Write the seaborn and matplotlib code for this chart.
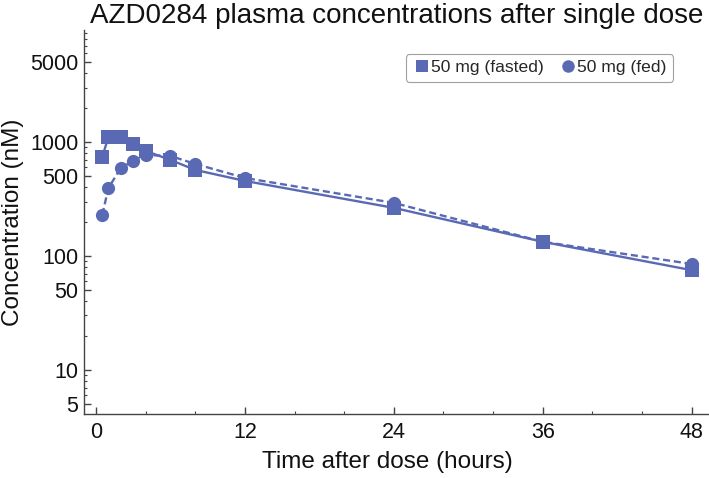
import matplotlib
matplotlib.use("Agg")
import matplotlib.pyplot as plt
import seaborn as sns
import pandas as pd
from matplotlib.ticker import FixedLocator, NullFormatter, MultipleLocator
from matplotlib.lines import Line2D

time_h = [0.5, 1, 2, 3, 4, 6, 8, 12, 24, 36, 48]
fasted = [738, 1107, 1107, 960, 834, 695, 568, 455, 264, 133, 75]
fed = [229, 395, 591, 681, 769, 753, 641, 483, 292, 133, 85]
series_names = ["50 mg (fasted)", "50 mg (fed)"]
x_ticks = [0, 12, 24, 36, 48]
y_ticks = [5, 10, 50, 100, 500, 1000, 5000]

df = pd.DataFrame({
    "time": time_h * 2,
    "conc": fasted + fed,
    "group": [series_names[0]] * len(time_h) + [series_names[1]] * len(time_h),
})

sns.set_style("ticks")
plt.rcParams['font.family'] = ['Liberation Sans', 'DejaVu Sans']
color = "#5a69b4"
axc = "#444444"

fig = plt.figure(figsize=(7.09, 4.78), dpi=100)
ax = fig.add_axes([84/709, 64/478, 1 - 84/709, (414-30)/478])

sns.lineplot(data=df, x="time", y="conc", style="group",
             markers={series_names[0]: "s", series_names[1]: "o"},
             dashes={series_names[0]: "", series_names[1]: (3, 1.6)},
             color=color, markersize=9.5, linewidth=1.7, markeredgewidth=0,
             legend=False, ax=ax)

ax.set_yscale("log")
ax.set_ylim(4.1, 9600)
ax.set_xlim(-0.97, 49.4)
ax.yaxis.set_major_locator(FixedLocator(y_ticks))
ax.set_yticklabels([str(t) for t in y_ticks])
minors = [m * 10**e for e in range(0, 4) for m in range(1, 10)]
minors = [v for v in minors if v not in y_ticks and 4 <= v <= 9600]
ax.yaxis.set_minor_locator(FixedLocator(minors))
ax.yaxis.set_minor_formatter(NullFormatter())
ax.xaxis.set_major_locator(FixedLocator(x_ticks))
ax.xaxis.set_minor_locator(MultipleLocator(4))

for s in ["top", "right"]:
    ax.spines[s].set_visible(False)
for s in ["left", "bottom"]:
    ax.spines[s].set_color(axc)
    ax.spines[s].set_linewidth(1.0)
ax.tick_params(axis="both", which="major", direction="in", length=5, width=1.0,
               color=axc, labelsize=15.5, labelcolor="#111111")
ax.tick_params(axis="x", which="major", pad=6)
ax.tick_params(axis="y", which="major", pad=4)
ax.tick_params(axis="both", which="minor", direction="in", length=2.5, width=0.8, color=axc)
ax.set_xlabel("Time after dose (hours)", fontsize=17.5, color="#111111")
ax.set_ylabel("Concentration (nM)", fontsize=17.5, color="#111111")
ax.xaxis.set_label_coords((387 - 84) / 625, -(451 - 414) / 384)
ax.yaxis.set_label_coords(-(84 - 24) / 625, 0.5)
ax.set_facecolor("white")

handles = [Line2D([], [], linestyle="none", marker="s", color=color, markersize=9, markeredgewidth=0),
           Line2D([], [], linestyle="none", marker="o", color=color, markersize=9, markeredgewidth=0)]
leg = ax.legend(handles, series_names, loc="upper right", ncol=2, fontsize=12.6, frameon=True,
                handletextpad=0.0, columnspacing=0.8, borderpad=0.35, handlelength=1.1,
                fancybox=True, edgecolor="#888888", borderaxespad=0)
leg.set_bbox_to_anchor((673/709, 1 - 54/478), transform=fig.transFigure)
leg.get_frame().set_linewidth(0.8)

fig.text((84 + 709) / 2 / 709, 1 - 16/478, "AZD0284 plasma concentrations after single dose",
         ha="center", va="center", fontsize=20, color="#111111")

fig.savefig("out.png", dpi=100, facecolor="white")
